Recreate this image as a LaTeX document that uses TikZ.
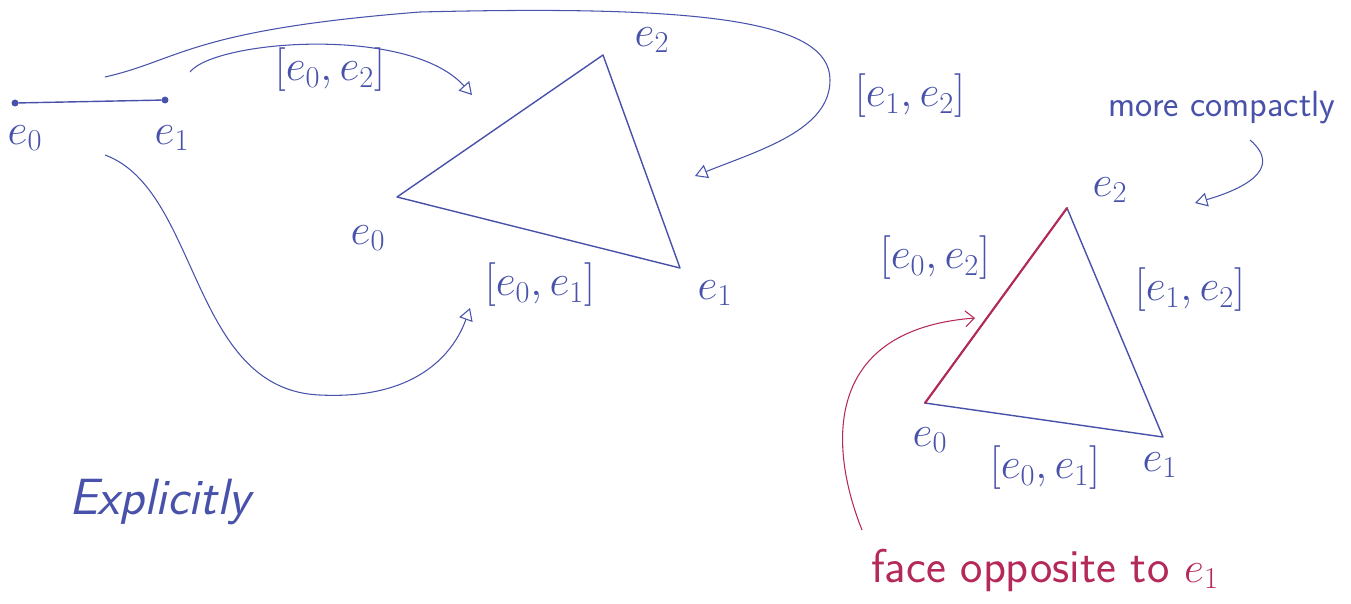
\documentclass[tikz,border=0pt]{standalone}
\usepackage{tikz}
\usetikzlibrary{arrows.meta, positioning}
\definecolor{ink}{RGB}{72,82,170}
\definecolor{redink}{RGB}{180,40,90}

\begin{document}
\begin{tikzpicture}[x=0.02cm, y=-0.02cm,
    pen/.style={draw=ink, thick, line cap=round, line join=round},
    redpen/.style={draw=redink, very thick, line cap=round},
    curvy/.style={draw=ink, semithick, -{Triangle[open, length=7pt, width=8pt]}},
    redcurvy/.style={draw=redink, semithick, -{Straight Barb[length=5pt, width=9pt]}},
    vtx/.style={circle, fill=ink, inner sep=1.4pt},
    lbl/.style={text=ink, font=\fontsize{25}{30}\selectfont},
    note/.style={text=ink, font=\huge\sffamily},
    bignote/.style={text=ink, font=\fontsize{29}{34}\selectfont\sffamily\itshape}
  ]
  \useasboundingbox (0,0) rectangle (1351,603);

  % the single edge
  \node[vtx] (a0) at (15,103) {};
  \node[vtx] (a1) at (165,100) {};
  \draw[pen] (a0) -- (a1);
  \node[lbl] (la0) at (25,138) {$e_0$};
  \node[lbl] (la1) at (172,138) {$e_1$};

  % the explicit triangle
  \coordinate (b0) at (397,197);
  \coordinate (b1) at (680,268);
  \coordinate (b2) at (603,55);
  \draw[pen] (b0) -- (b1) -- (b2) -- cycle;
  \node[lbl] (lb0) at (368,238) {$e_0$};
  \node[lbl] (lb1) at (715,293) {$e_1$};
  \node[lbl] (lb2) at (652,40) {$e_2$};
  \node[lbl] (lb02) at (330,70) {$[e_0,e_2]$};
  \node[lbl] (lb12) at (910,96) {$[e_1,e_2]$};
  \node[lbl] (lb01) at (540,285) {$[e_0,e_1]$};

  % where the arrows start and end
  \coordinate (s02) at (190,72);
  \coordinate (s12) at (105,77);
  \coordinate (s01) at (105,155);
  \coordinate (t02) at (472,95);
  \coordinate (t12) at (695,176);
  \coordinate (t01) at (470,308);

  \draw[curvy] (s02) .. controls (215,40) and (410,25) .. (t02);
  \draw[curvy] (s12) .. controls (180,60) and (190,30) .. (420,12)
      .. controls (700,5) and (830,20) .. (830,80)
      .. controls (830,130) and (760,150) .. (t12);
  \draw[curvy] (s01) .. controls (200,190) and (190,390) .. (320,395)
      .. controls (420,400) and (455,350) .. (t01);

  \node[bignote] (expl) at (160,502) {Explicitly};

  % the compact triangle
  \coordinate (c0) at (925,403);
  \coordinate (c1) at (1163,437);
  \coordinate (c2) at (1067,208);
  \draw[pen] (c0) -- (c1) -- (c2) -- cycle;
  \draw[redpen] (c0) -- (c2);
  \node[lbl] (lc0) at (930,440) {$e_0$};
  \node[lbl] (lc1) at (1160,465) {$e_1$};
  \node[lbl] (lc2) at (1110,190) {$e_2$};
  \node[lbl] (lc02) at (935,258) {$[e_0,e_2]$};
  \node[lbl] (lc12) at (1190,290) {$[e_1,e_2]$};
  \node[lbl] (lc01) at (1045,468) {$[e_0,e_1]$};

  \node[note] (compact) at (1222,108) {more compactly};
  \coordinate (sc) at (1250,140);
  \coordinate (tc) at (1195,203);
  \draw[curvy] (sc) .. controls (1285,170) and (1240,190) .. (tc);

  \node[text=redink, font=\fontsize{27}{32}\selectfont\sffamily] (face) at (1045,570) {face opposite to $e_1$};
  \coordinate (sf) at (862,530);
  \coordinate (tf) at (975,318);
  \draw[redcurvy] (sf) .. controls (830,450) and (820,330) .. (tf);
\end{tikzpicture}
\end{document}
